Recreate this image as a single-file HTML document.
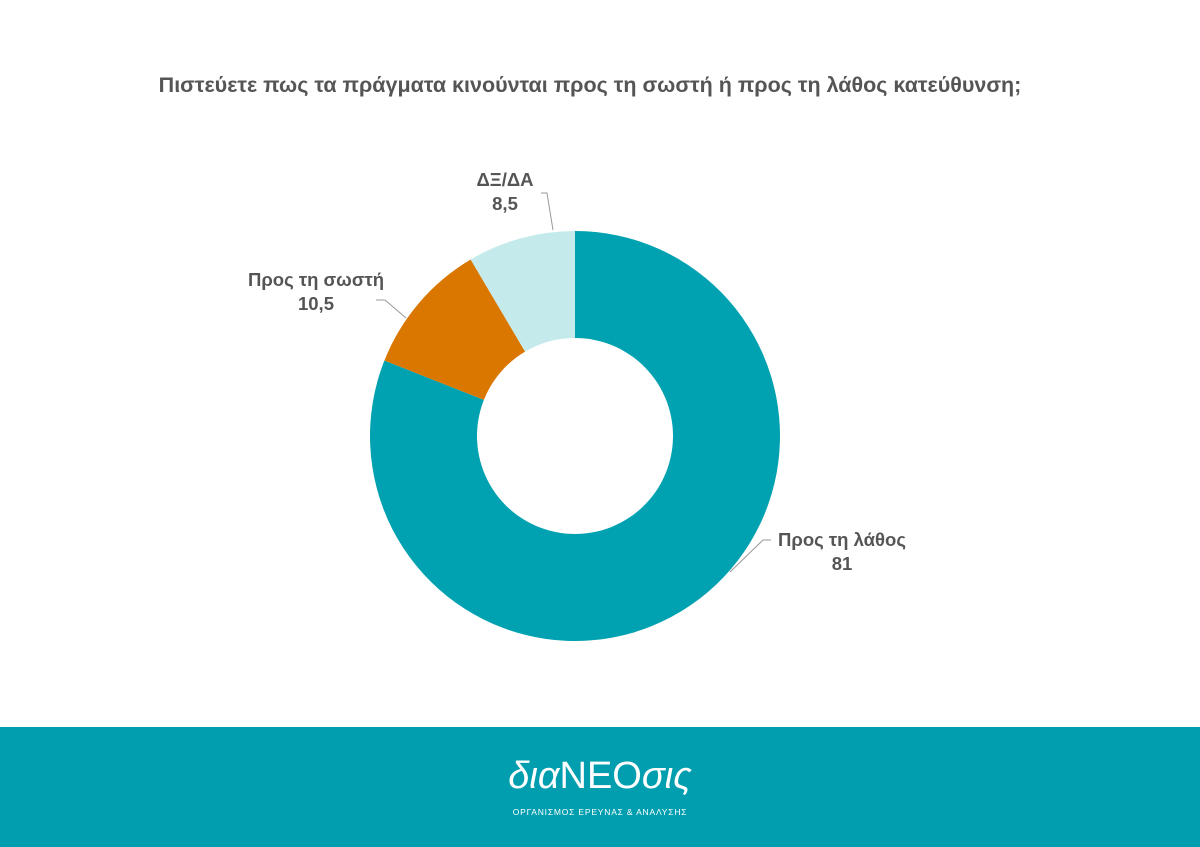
<!DOCTYPE html>
<html><head><meta charset="utf-8"><style>
body{margin:0;width:1200px;height:847px;background:#fff;font-family:"Liberation Sans",sans-serif;overflow:hidden;position:relative}
#title{position:absolute;top:73px;left:0;width:1180px;text-align:center;font-size:21.5px;font-weight:bold;color:#555}
#footer{position:absolute;left:0;top:727px;width:1200px;height:120px;background:#009eae}
</style></head><body>
<div id="title">Πιστεύετε πως τα πράγματα κινούνται προς τη σωστή ή προς τη λάθος κατεύθυνση;</div>
<svg id="chart" width="1200" height="727" style="position:absolute;left:0;top:0"></svg>
<div id="footer">
<div style="position:absolute;left:0;width:1200px;top:28px;text-align:center;color:#fff;font-size:38px;font-style:italic;font-family:'Liberation Sans',sans-serif">δια<span style="font-style:normal">ΝΕΟ</span>σις</div>
<div style="position:absolute;left:0;width:1200px;top:80px;text-align:center;color:#fff;font-size:8.5px;letter-spacing:0.8px">ΟΡΓΑΝΙΣΜΟΣ ΕΡΕΥΝΑΣ &amp; ΑΝΑΛΥΣΗΣ</div>
</div>
<script>
const categories=["Προς τη λάθος","Προς τη σωστή","ΔΞ/ΔΑ"];
const values=[81,10.5,8.5];
const valueLabels=["81","10,5","8,5"];
const colors=["#00a1b0","#d97700","#c5eaec"];
const svg=document.getElementById('chart');
const NS='http://www.w3.org/2000/svg';
const cx=575,cy=436,R=205,r=98;
const total=values.reduce((a,b)=>a+b,0);
function pt(a,rad){return [cx+rad*Math.sin(a),cy-rad*Math.cos(a)];}
let acc=0;
const labelPos=[{x:842,y:546,line:[[730,572],[763,540],[771,540]]},
{x:316,y:286,line:[[406,318],[385,300],[376,300]]},
{x:505,y:186,line:[[553,230],[547,193],[541,193]]}];
values.forEach((v,i)=>{
 const a0=acc/total*2*Math.PI;acc+=v;const a1=acc/total*2*Math.PI;
 const large=(a1-a0)>Math.PI?1:0;
 const p0=pt(a0,R),p1=pt(a1,R),q1=pt(a1,r),q0=pt(a0,r);
 const p=document.createElementNS(NS,'path');
 p.setAttribute('d',`M${p0} A${R},${R} 0 ${large} 1 ${p1} L${q1} A${r},${r} 0 ${large} 0 ${q0}Z`);
 p.setAttribute('fill',colors[i]);
 
 
 svg.appendChild(p);
 const L=labelPos[i];
 const pl=document.createElementNS(NS,'polyline');
 pl.setAttribute('points',L.line.map(q=>q.join(',')).join(' '));
 pl.setAttribute('fill','none');pl.setAttribute('stroke','#999');pl.setAttribute('stroke-width','1');
 
 
 svg.appendChild(pl);
 [categories[i],valueLabels[i]].forEach((t,k)=>{
  const tx=document.createElementNS(NS,'text');
  tx.setAttribute('x',L.x);tx.setAttribute('y',L.y+k*24);
  tx.setAttribute('text-anchor','middle');tx.setAttribute('font-size','18.5');
  tx.setAttribute('font-weight','bold');tx.setAttribute('fill','#555');
  tx.setAttribute('font-family','Liberation Sans, sans-serif');
  tx.textContent=t;
  
  
  svg.appendChild(tx);
 });
});
</script>
</body></html>
